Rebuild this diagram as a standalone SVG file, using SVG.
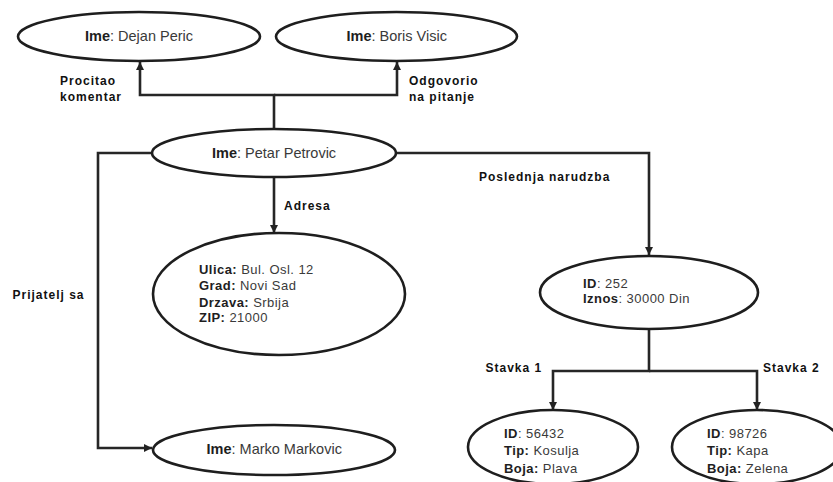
<svg xmlns="http://www.w3.org/2000/svg" width="833" height="482" viewBox="0 0 833 482">
<defs>
<marker id="arr" markerUnits="userSpaceOnUse" markerWidth="10" markerHeight="10" viewBox="0 0 10 10" refX="9" refY="5" orient="auto">
<path d="M1 1 L9 5 L1 9 Z" fill="#222"/>
</marker>
<style>
.node ellipse{fill:#fff;stroke:#1e1e1e;stroke-width:2.6}
.conn path{fill:none;stroke:#262626;stroke-width:2.6}
.conn path.a{marker-end:url(#arr)}
.t{font-family:"Liberation Sans",Arial,sans-serif;font-size:14.5px;fill:#3a3a3a}
.s{font-family:"Liberation Sans",Arial,sans-serif;font-size:13px;letter-spacing:0.45px;fill:#3a3a3a}
.b{font-weight:bold;fill:#1e1e1e}
.lbl{font-family:"Liberation Sans",Arial,sans-serif;font-size:12px;font-weight:bold;letter-spacing:1px;fill:#111}
</style>
</defs>
<rect width="833" height="482" fill="#fff"/>
<g class="conn">
<path class="a" d="M274 129 V95 H140 V62"/>
<path class="a" d="M274 95 H397 V62"/>
<path class="a" d="M152 153 H98 V448 H152"/>
<path class="a" d="M274 177 V233"/>
<path class="a" d="M396 153 H649 V255"/>
<path class="a" d="M649 329 V371 H553 V410"/>
<path class="a" d="M649 371 H757 V410"/>
</g>
<g id="labels">
<text class="lbl" x="60" y="85">Procitao</text>
<text class="lbl" x="60" y="100.5">komentar</text>
<text class="lbl" x="409" y="85">Odgovorio</text>
<text class="lbl" x="409" y="100.5">na pitanje</text>
<text class="lbl" x="479" y="181">Poslednja narudzba</text>
<text class="lbl" x="284" y="210">Adresa</text>
<text class="lbl" x="12.5" y="299">Prijatelj sa</text>
<text class="lbl" x="485.5" y="372">Stavka 1</text>
<text class="lbl" x="763" y="372">Stavka 2</text>
</g>
<g id="dejan" class="node">
<ellipse cx="139" cy="36.5" rx="121" ry="24.5"/>
<text class="t" x="85" y="41"><tspan class="b">Ime</tspan>: Dejan Peric</text>
</g>
<g id="boris" class="node">
<ellipse cx="396.5" cy="36.5" rx="120.5" ry="24.5"/>
<text class="t" x="346.5" y="41"><tspan class="b">Ime</tspan>: Boris Visic</text>
</g>
<g id="petar" class="node">
<ellipse cx="274" cy="153" rx="122" ry="24"/>
<text class="t" x="212" y="158"><tspan class="b">Ime</tspan>: Petar Petrovic</text>
</g>
<g id="adresa" class="node">
<ellipse cx="279" cy="294" rx="126" ry="61"/>
<text class="s" x="199" y="274"><tspan class="b">Ulica:</tspan> Bul. Osl. 12</text>
<text class="s" x="199" y="290"><tspan class="b">Grad:</tspan> Novi Sad</text>
<text class="s" x="199" y="306.5"><tspan class="b">Drzava:</tspan> Srbija</text>
<text class="s" x="199" y="321.5"><tspan class="b">ZIP:</tspan> 21000</text>
</g>
<g id="marko" class="node">
<ellipse cx="274" cy="450" rx="121" ry="25"/>
<text class="t" x="206.5" y="454"><tspan class="b">Ime</tspan>: Marko Markovic</text>
</g>
<g id="narudzba" class="node">
<ellipse cx="649" cy="292.5" rx="109" ry="36.5"/>
<text class="s" x="583" y="288"><tspan class="b">ID</tspan>: 252</text>
<text class="s" x="583" y="303"><tspan class="b">Iznos</tspan>: 30000 Din</text>
</g>
<g id="stavka1" class="node">
<ellipse cx="553" cy="447" rx="85" ry="37"/>
<text class="s" x="504" y="438"><tspan class="b">ID</tspan>: 56432</text>
<text class="s" x="504" y="454.5"><tspan class="b">Tip:</tspan> Kosulja</text>
<text class="s" x="504" y="473"><tspan class="b">Boja:</tspan> Plava</text>
</g>
<g id="stavka2" class="node">
<ellipse cx="757" cy="447" rx="85" ry="37"/>
<text class="s" x="707" y="438"><tspan class="b">ID</tspan>: 98726</text>
<text class="s" x="707" y="454.5"><tspan class="b">Tip:</tspan> Kapa</text>
<text class="s" x="707" y="473"><tspan class="b">Boja:</tspan> Zelena</text>
</g>
</svg>
